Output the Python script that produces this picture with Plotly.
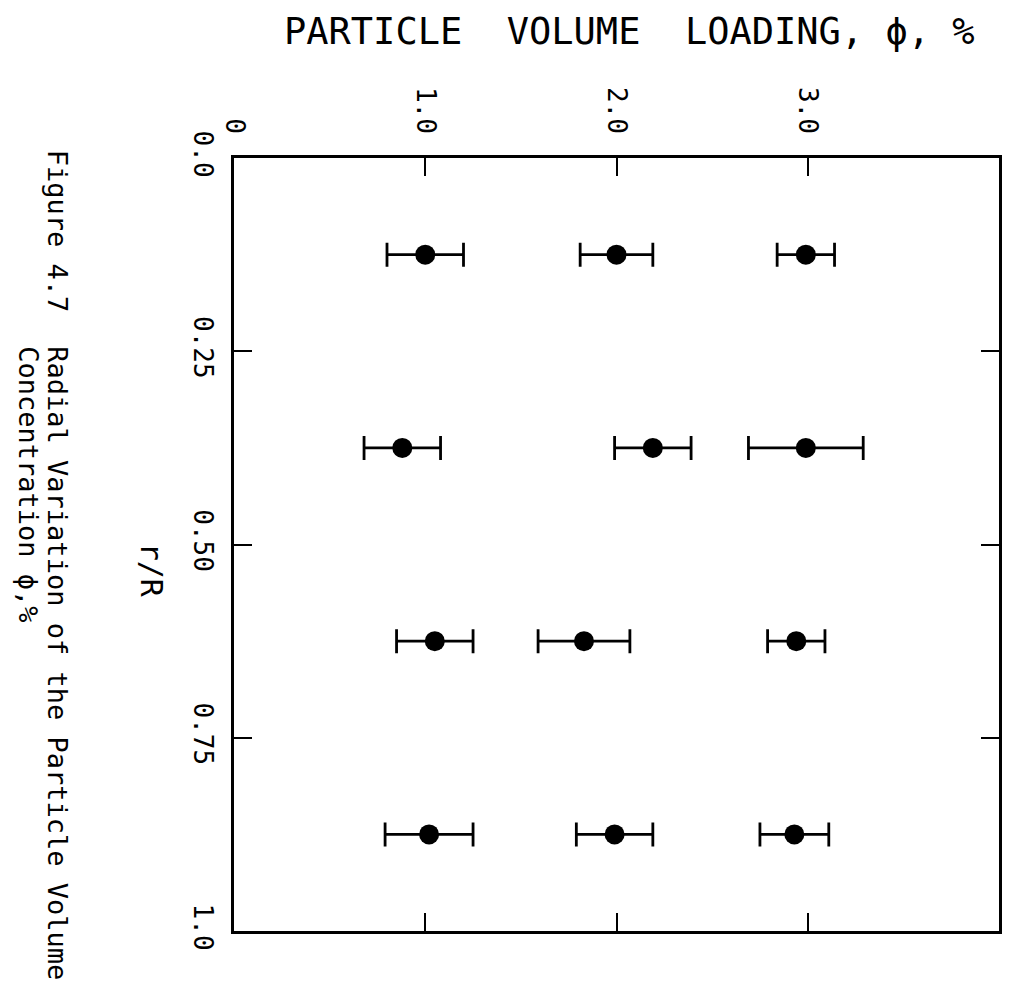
import plotly.graph_objects as go

# Radial positions of the measurement stations
r_over_R = [0.125, 0.375, 0.625, 0.875]

# Mean particle volume loading (%) and half-width of the error bar, per nominal loading
phi_1 = [1.00, 0.88, 1.05, 1.02]
err_1 = [0.20, 0.20, 0.20, 0.23]
phi_2 = [2.00, 2.19, 1.83, 1.99]
err_2 = [0.19, 0.20, 0.24, 0.20]
phi_3 = [2.99, 2.99, 2.94, 2.93]
err_3 = [0.15, 0.30, 0.15, 0.18]

phi_ticks = [0, 1, 2, 3]
phi_ticktext = ["0", "1.0", "2.0", "3.0"]
r_ticks = [0, 0.25, 0.5, 0.75, 1.0]
r_ticktext = ["0.0", "0.25", "0.50", "0.75", "1.0"]

FONT = "DejaVu Sans Mono"
W, H = 1012, 981
L, R, T, B = 234, 10, 158, 50
PW, PH = W - L - R, H - T - B


def px(xp):
    return (xp - L) / PW


def py(yp):
    return (H - B - yp) / PH


fig = go.Figure()
for phi, err in [(phi_1, err_1), (phi_2, err_2), (phi_3, err_3)]:
    fig.add_trace(go.Scatter(
        x=phi, y=r_over_R, mode="markers",
        marker=dict(color="black", size=20, line=dict(width=0)),
        error_x=dict(type="data", array=err, symmetric=True,
                     color="black", thickness=2.8, width=12),
        showlegend=False, cliponaxis=False,
    ))

axis_common = dict(
    showline=True, linecolor="black", linewidth=3, mirror="ticks",
    ticks="inside", ticklen=18, tickwidth=2, tickcolor="black",
    showgrid=False, zeroline=False, tickangle=90,
    tickfont=dict(family=FONT, size=26, color="black"),
)

fig.update_xaxes(range=[0, 4], side="top", tickvals=phi_ticks,
                 ticktext=phi_ticktext, ticklabelstandoff=12, **axis_common)
fig.update_yaxes(range=[1, 0], tickvals=r_ticks, ticktext=r_ticktext,
                 ticklabelstandoff=6, **axis_common)

annotations = [
    dict(text="PARTICLE\u00a0\u00a0VOLUME\u00a0\u00a0LOADING,\u00a0\u03d5,\u00a0%",
         x=px(631), y=py(31), xanchor="center", yanchor="middle",
         font=dict(family=FONT, size=37, color="black"), textangle=0),
    dict(text="r/R", x=px(152), y=py(570), xanchor="center", yanchor="middle",
         font=dict(family=FONT, size=30, color="black"), textangle=90),
    dict(text="Figure 4.7", x=px(57), y=py(148), xanchor="center", yanchor="top",
         font=dict(family=FONT, size=27, color="black"), textangle=90),
    dict(text="Radial Variation of the Particle Volume", x=px(57), y=py(344),
         xanchor="center", yanchor="top",
         font=dict(family=FONT, size=27, color="black"), textangle=90),
    dict(text="Concentration \u03d5,%", x=px(28), y=py(344),
         xanchor="center", yanchor="top",
         font=dict(family=FONT, size=27, color="black"), textangle=90),
]
for a in annotations:
    a.update(xref="paper", yref="paper", showarrow=False)

fig.update_layout(
    width=W, height=H,
    margin=dict(l=L, r=R, t=T, b=B, pad=0),
    paper_bgcolor="white", plot_bgcolor="white",
    annotations=annotations,
)

fig.write_html("out.html")
